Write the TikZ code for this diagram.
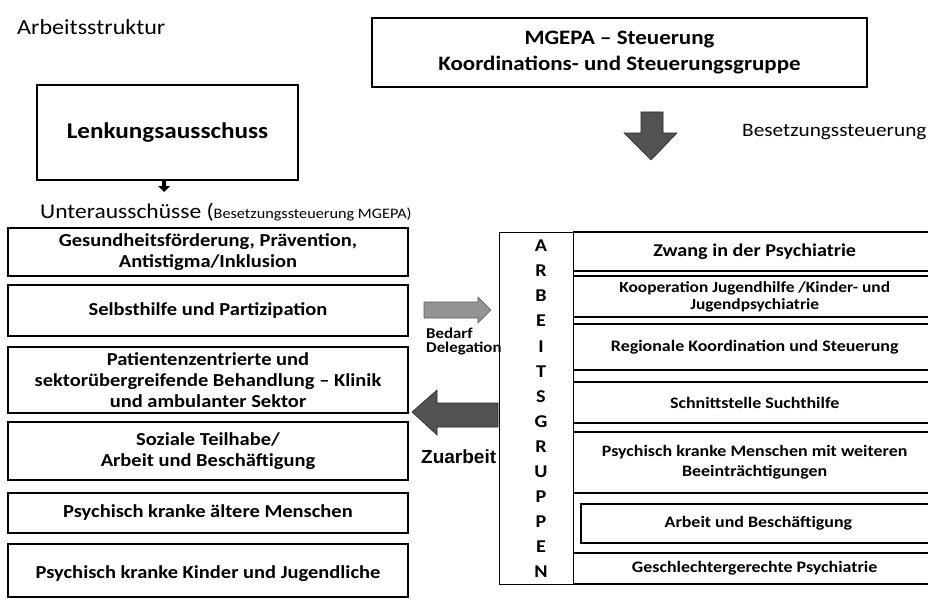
\documentclass[tikz,border=0pt]{standalone}
\usepackage{fontspec}
\setmainfont{Carlito}[FakeStretch=1.12]
\newfontfamily\arialfont{Liberation Sans}
\begin{document}
\begin{tikzpicture}[x=1pt,y=-1pt,
  lbox/.style={draw=black, line width=1.3pt, inner sep=0pt, align=center,
    minimum width=400pt, font=\bfseries\fontsize{18.3}{21}\selectfont},
  rrow/.style={draw=black, line width=1.4pt, inner sep=0pt, align=center,
    anchor=west, minimum width=362pt, font=\bfseries\fontsize{16}{18}\selectfont},
  blockdark/.style={fill=black!68, draw=black!85, line width=0.6pt},
  blocklight/.style={fill=black!42, draw=black!65, line width=0.6pt},
  plain/.style={inner sep=0pt}
]
\useasboundingbox (0,0) rectangle (928,599);
\clip (0,0) rectangle (928,599);

% title
\node[plain, anchor=base west, font=\fontsize{21.5}{24}\selectfont] (title) at (17,35) {Arbeitsstruktur};

% top boxes
\node[draw=black, line width=1.3pt, inner sep=0pt, align=center, minimum width=495pt, minimum height=69pt,
  font=\bfseries\fontsize{20.5}{26}\selectfont] (mgepa) at (619.5,52.5)
  {MGEPA -- Steuerung\\Koordinations- und Steuerungsgruppe};
\node[draw=black, line width=1.3pt, inner sep=0pt, minimum width=261pt, minimum height=95pt,
  font=\bfseries\fontsize{22.5}{26}\selectfont] (lenk) at (167.5,132.5) {Lenkungsausschuss};

% big down arrow
\fill[blockdark] (641,112) -- (663,112) -- (663,133) -- (677,133) -- (651,160) -- (624,133) -- (641,133) -- cycle;
\node[plain, anchor=base west, font=\fontsize{19}{22}\selectfont] (bes) at (742,136) {Besetzungssteuerung};

% small arrow under Lenkungsausschuss
\fill[black] (162,181) -- (166,181) -- (166,186) -- (170,186) -- (164,192) -- (158,186) -- (162,186) -- cycle;

\node[plain, anchor=base west] (unter) at (40,218)
  {\fontsize{21}{24}\selectfont Unterausschüsse (\fontsize{14.5}{18}\selectfont Besetzungssteuerung MGEPA)};

% left boxes
\node[lbox, minimum height=48pt] (u1) at (208,252) {Gesundheitsförderung, Prävention,\\Antistigma/Inklusion};
\node[lbox, minimum height=51pt] (u2) at (208,310.5) {Selbsthilfe und Partizipation};
\node[lbox, minimum height=66pt] (u3) at (208,380) {Patientenzentrierte und\\sektorübergreifende Behandlung -- Klinik\\und ambulanter Sektor};
\node[lbox, minimum height=58pt] (u4) at (208,451) {Soziale Teilhabe/\\Arbeit und Beschäftigung};
\node[lbox, minimum height=40pt] (u5) at (208,513) {Psychisch kranke ältere Menschen};
\node[lbox, minimum height=53pt, text depth=0pt] (u6) at (208,570.5) {\raisebox{-4pt}{Psychisch kranke Kinder und Jugendliche}};

% arrows between groups
\fill[blocklight] (424,302) -- (478,302) -- (478,297) -- (491,310) -- (478,323) -- (478,318) -- (424,318) -- cycle;
\node[plain, anchor=base west, font=\bfseries\fontsize{15}{14}\selectfont] (bedarf) at (426,338) {Bedarf};
\node[plain, anchor=base west, font=\bfseries\fontsize{15}{14}\selectfont] (deleg) at (426,352) {Delegation};
\fill[blockdark] (498,403) -- (437,403) -- (437,390) -- (412,412) -- (437,435) -- (437,427) -- (498,427) -- cycle;
\node[plain, anchor=base west, font=\arialfont\bfseries\fontsize{19}{22}\selectfont] (zu) at (421,463) {Zuarbeit};

% right rows
\node[rrow, minimum height=39pt, font=\bfseries\fontsize{18}{20}\selectfont] (r1) at (573,251.5) {Zwang in der Psychiatrie};
\node[rrow, minimum height=41pt, font=\bfseries\fontsize{15.5}{17}\selectfont] (r2) at (573,296.5) {Kooperation Jugendhilfe /Kinder- und\\Jugendpsychiatrie};
\node[rrow, minimum height=46pt] (r3) at (573,347) {Regionale Koordination und Steuerung};
\node[rrow, minimum height=41pt] (r4) at (573,402.5) {Schnittstelle Suchthilfe};
\node[rrow, minimum height=61pt, font=\bfseries\fontsize{16}{20}\selectfont] (r5) at (573,462.5) {Psychisch kranke Menschen mit weiteren\\Beeinträchtigungen};
\node[rrow, minimum height=39pt, minimum width=355pt, line width=1.8pt] (r6) at (580,523.5) {Arbeit und Beschäftigung};
\node[rrow, minimum height=31pt] (r7) at (573,568.5) {Geschlechtergerechte Psychiatrie};

% ARBEITSGRUPPEN column
\node[draw=black, line width=1.4pt, minimum width=74pt, minimum height=352pt, inner sep=0pt, anchor=north west] (ag) at (499,232) {};
\node[plain, align=center, font=\bfseries\fontsize{18}{25.1}\selectfont] (agtext) at (541,409)
  {A\\R\\B\\E\\I\\T\\S\\G\\R\\U\\P\\P\\E\\N};
\end{tikzpicture}
\end{document}
